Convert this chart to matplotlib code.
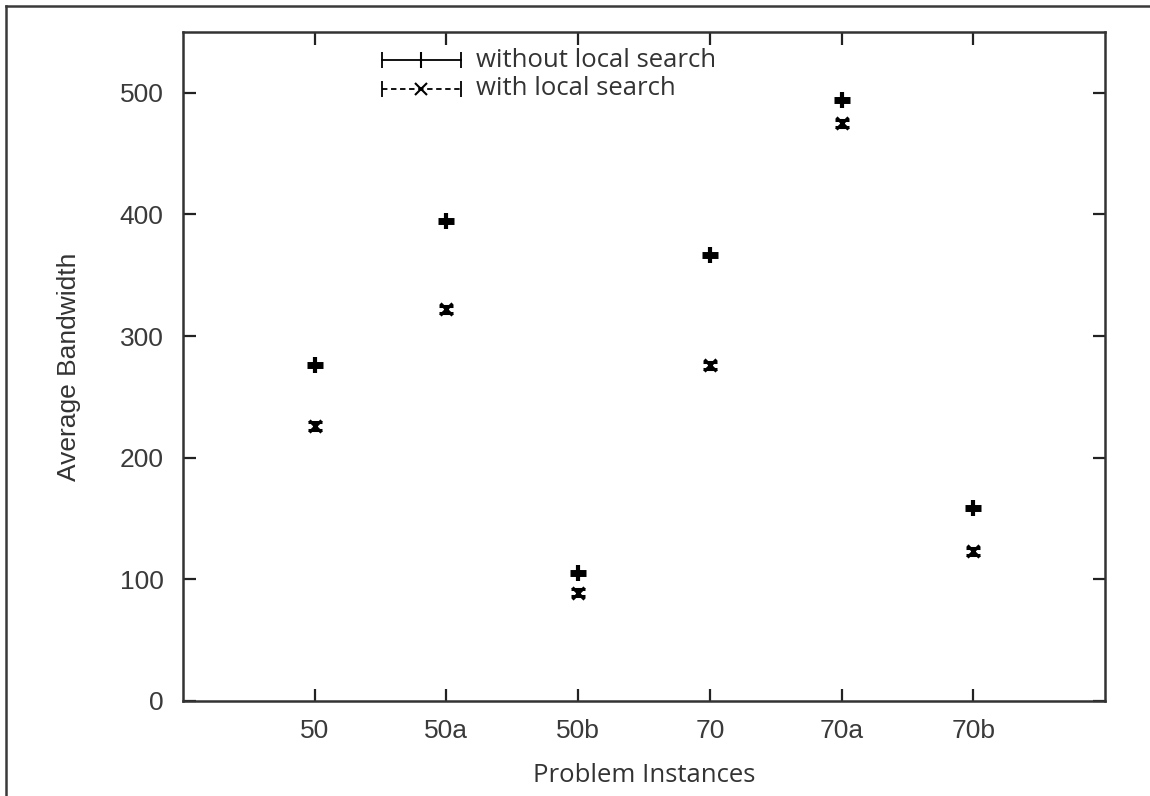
import matplotlib
matplotlib.use("Agg")
import matplotlib.pyplot as plt
from matplotlib.lines import Line2D

categories = ["50", "50a", "50b", "70", "70a", "70b"]
without_ls = [276, 395, 105, 367, 494, 159]
with_ls = [226, 322, 89, 276, 475, 123]
with_err = [3, 3, 3, 3, 3, 3]
yticks = [0, 100, 200, 300, 400, 500]
legend_labels = ["without local search", "with local search"]

W, H = 1150, 796
fig = plt.figure(figsize=(W / 100, H / 100), dpi=100)
fig.patch.set_facecolor("white")
# outer frame (top and left edges visible in the reference)
fig.add_artist(Line2D([6 / W, 1.0], [1 - 6 / H, 1 - 6 / H], transform=fig.transFigure,
                      color="#3a3a3a", linewidth=1.8))
fig.add_artist(Line2D([6 / W, 6 / W], [0, 1 - 6 / H], transform=fig.transFigure,
                      color="#3a3a3a", linewidth=1.8))

ax = fig.add_axes([183 / W, 1 - 701 / H, (1105 - 183) / W, (701 - 32) / H])
x = list(range(1, len(categories) + 1))

ax.plot(x, without_ls, linestyle="none", marker="_", color="black",
        markersize=12, markeredgewidth=5)
ax.plot(x, without_ls, linestyle="none", marker="|", color="black",
        markersize=12, markeredgewidth=3)
ax.errorbar(x, with_ls, yerr=with_err, fmt="x", color="black",
            markersize=8, markeredgewidth=2.2, elinewidth=1.2, capsize=5, capthick=1.8)

ax.set_xlim(0, len(categories) + 1)
ax.set_ylim(0, 550)
ax.set_xticks(x)
ax.set_xticklabels(categories)
ax.set_yticks(yticks)

for lbl in ax.get_xticklabels() + ax.get_yticklabels():
    lbl.set_fontfamily(["Liberation Sans", "DejaVu Sans"])
    lbl.set_fontsize(19)
    lbl.set_color("#3a3a3a")

ax.tick_params(direction="in", length=9, width=1.6, top=True, right=True,
               color="#222222")
ax.tick_params(axis="x", pad=13)
ax.tick_params(axis="y", pad=14)
for s in ax.spines.values():
    s.set_linewidth(1.8)
    s.set_color("#333333")

ax.set_ylabel("Average Bandwidth", family=["Liberation Sans", "DejaVu Sans"],
              fontsize=19, color="#333333", labelpad=28)
ax.set_xlabel("Problem Instances", family=["Open Sans", "DejaVu Sans"],
              fontsize=18.5, color="#333333", labelpad=14)

# gnuplot-style key
x0, x1, xm = 0.216, 0.3015, 0.258
ys = [0.958, 0.915]
styles = ["-", (0, (3, 2))]
markers = ["|", "x"]
for yk, ls, mk, lab in zip(ys, styles, markers, legend_labels):
    ax.add_line(Line2D([x0, x1], [yk, yk], transform=ax.transAxes, color="black",
                       linewidth=1.3, linestyle=ls))
    ax.add_line(Line2D([x0, x1], [yk, yk], transform=ax.transAxes, color="black",
                       linestyle="none", marker="|", markersize=12, markeredgewidth=1.3))
    ax.add_line(Line2D([xm], [yk], transform=ax.transAxes, color="black",
                       linestyle="none", marker=mk, markersize=11 if mk == "|" else 8,
                       markeredgewidth=1.5))
    ax.text(0.318, yk, lab, transform=ax.transAxes, va="center", ha="left",
            family=["Open Sans", "DejaVu Sans"], fontsize=18.5, color="#333333")

fig.savefig("out.png", dpi=100)
